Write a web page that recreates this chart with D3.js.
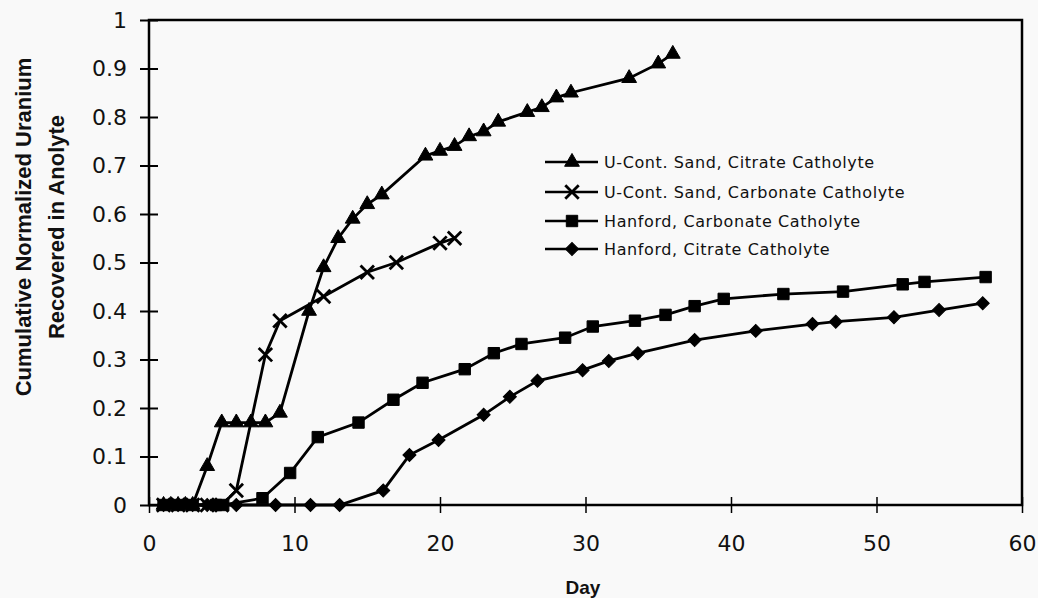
<!DOCTYPE html>
<html>
<head>
<meta charset="utf-8">
<script src="https://cdn.jsdelivr.net/npm/d3@7"></script>
<style>
  html, body { margin: 0; padding: 0; background: #f9f9f9; }
  svg { display: block; }
</style>
</head>
<body>
<div id="chart"></div>
<script>
// data
var seriesNames = [
  "U-Cont. Sand, Citrate Catholyte",
  "U-Cont. Sand, Carbonate Catholyte",
  "Hanford, Carbonate Catholyte",
  "Hanford, Citrate Catholyte"
];

var sandCitrateDays = [1, 1.5, 2, 2.5, 3, 4, 5, 6, 7, 8, 9, 11, 12, 13, 14, 15, 16, 19, 20, 21, 22, 23, 24, 26, 27, 28, 29, 33, 35, 36];
var sandCitrateU    = [0, 0, 0, 0, 0, 0.08, 0.17, 0.17, 0.17, 0.17, 0.19, 0.40, 0.49, 0.55, 0.59, 0.62, 0.64, 0.72, 0.73, 0.74, 0.76, 0.77, 0.79, 0.81, 0.82, 0.84, 0.85, 0.88, 0.91, 0.93];

var sandCarbonateDays = [1, 2, 3, 4, 5, 6, 8, 9, 12, 15, 17, 20, 21];
var sandCarbonateU    = [0, 0, 0, 0, 0, 0.03, 0.31, 0.38, 0.43, 0.48, 0.50, 0.54, 0.55];

var hanfordCarbonateDays = [1, 2, 3, 4.6, 5.1, 7.8, 9.7, 11.6, 14.4, 16.8, 18.8, 21.7, 23.7, 25.6, 28.6, 30.5, 33.4, 35.5, 37.5, 39.5, 43.6, 47.7, 51.8, 53.3, 57.5];
var hanfordCarbonateU    = [0, 0, 0, 0, 0, 0.014, 0.066, 0.14, 0.17, 0.217, 0.252, 0.28, 0.313, 0.332, 0.345, 0.368, 0.38, 0.392, 0.41, 0.425, 0.435, 0.44, 0.455, 0.46, 0.47];

var hanfordCitrateDays = [1, 2, 3, 4, 6, 8.7, 11.1, 13.1, 16.1, 17.9, 19.9, 23, 24.8, 26.7, 29.8, 31.6, 33.6, 37.5, 41.7, 45.6, 47.2, 51.2, 54.3, 57.3];
var hanfordCitrateU    = [0, 0, 0, 0, 0, 0, 0, 0, 0.03, 0.103, 0.134, 0.186, 0.223, 0.256, 0.278, 0.297, 0.313, 0.34, 0.359, 0.373, 0.378, 0.387, 0.402, 0.416];

var xTicks = [0, 10, 20, 30, 40, 50, 60];
var yTicks = [0, 0.1, 0.2, 0.3, 0.4, 0.5, 0.6, 0.7, 0.8, 0.9, 1];

var W = 1038, H = 598;
var margin = {top: 20, right: 16, bottom: 93, left: 149};
var width = W - margin.left - margin.right,
    height = H - margin.top - margin.bottom;

var svg = d3.select("#chart").append("svg")
  .attr("width", W).attr("height", H);

var g = svg.append("g")
  .attr("transform", "translate(" + margin.left + "," + margin.top + ")");

var x = d3.scaleLinear().domain([0, 60]).range([0, width]);
var y = d3.scaleLinear().domain([0, 1]).range([height, 0]);

// plot frame
g.append("rect")
  .attr("x", 0).attr("y", 0)
  .attr("width", width).attr("height", height)
  .attr("fill", "none")
  .attr("stroke", "#000")
  .attr("stroke-width", 2.5);

// axes (ticks crossing the frame)
var yAxis = g.append("g")
  .call(d3.axisLeft(y).tickValues(yTicks).tickSize(9).tickPadding(13)
    .tickFormat(function(d) { return d === 0 || d === 1 ? d3.format("d")(d) : d3.format(".1f")(d); }));
yAxis.select(".domain").remove();
yAxis.selectAll(".tick line").attr("x2", 9).attr("x1", -9).attr("stroke-width", 2);

var xAxis = g.append("g")
  .attr("transform", "translate(0," + height + ")")
  .call(d3.axisBottom(x).tickValues(xTicks).tickSize(8).tickPadding(22));
xAxis.select(".domain").remove();
xAxis.selectAll(".tick line").attr("y1", -8).attr("y2", 8).attr("stroke-width", 1.5);

svg.selectAll(".tick text")
  .attr("font-family", "DejaVu Sans")
  .attr("font-size", 22)
  .attr("fill", "#111");

// axis titles
var yTitle = svg.append("text")
  .attr("transform", "translate(31,227) rotate(-90)")
  .attr("text-anchor", "middle")
  .attr("font-family", "Liberation Sans")
  .attr("font-weight", "bold")
  .attr("font-size", 22)
  .attr("fill", "#111");
yTitle.append("tspan").attr("x", 0).attr("dy", 0).text("Cumulative Normalized Uranium");
yTitle.append("tspan").attr("x", 0).attr("dy", 33).text("Recovered in Anolyte");

svg.append("text")
  .attr("x", 583).attr("y", 594)
  .attr("text-anchor", "middle")
  .attr("font-family", "Liberation Sans")
  .attr("font-weight", "bold")
  .attr("font-size", 19)
  .attr("fill", "#111")
  .text("Day");

// markers
var markerPaths = [
  d3.symbol().type(d3.symbolTriangle).size(95)(),
  d3.symbol().type(d3.symbolTimes).size(120)(),
  d3.symbol().type(d3.symbolSquare).size(130)(),
  d3.symbol().type(d3.symbolSquare).size(85)()
];
var markerRotate = [0, 0, 0, 45];
var markerStroked = [false, true, false, false];

var series = [
  {days: sandCitrateDays, vals: sandCitrateU},
  {days: sandCarbonateDays, vals: sandCarbonateU},
  {days: hanfordCarbonateDays, vals: hanfordCarbonateU},
  {days: hanfordCitrateDays, vals: hanfordCitrateU}
];

var line = d3.line()
  .x(function(d) { return x(d[0]); })
  .y(function(d) { return y(d[1]); });

function drawMarker(sel, i) {
  sel.attr("d", markerPaths[i]);
  if (markerStroked[i]) {
    sel.attr("fill", "none").attr("stroke", "#000").attr("stroke-width", 2.8);
  } else {
    sel.attr("fill", "#000").attr("stroke", "#000").attr("stroke-width", 1);
  }
}

series.forEach(function(s, i) {
  var pts = s.days.map(function(d, k) { return [d, s.vals[k]]; });
  g.append("path")
    .datum(pts)
    .attr("d", line)
    .attr("fill", "none")
    .attr("stroke", "#000")
    .attr("stroke-width", 2.8);
  g.selectAll(".m" + i)
    .data(pts)
    .enter().append("path")
    .attr("class", "m" + i)
    .attr("transform", function(d) {
      return "translate(" + x(d[0]) + "," + y(d[1]) + ") rotate(" + markerRotate[i] + ")";
    })
    .call(drawMarker, i);
});

// legend
var legendY = [162, 192, 221, 249];
var legend = svg.append("g");
seriesNames.forEach(function(name, i) {
  var row = legend.append("g").attr("transform", "translate(0," + legendY[i] + ")");
  row.append("line")
    .attr("x1", 545).attr("x2", 598)
    .attr("y1", 0).attr("y2", 0)
    .attr("stroke", "#000").attr("stroke-width", 2.4);
  row.append("path")
    .attr("transform", "translate(572,0) rotate(" + markerRotate[i] + ")")
    .call(drawMarker, i);
  row.append("text")
    .attr("x", 604).attr("y", 5.5)
    .attr("font-family", "DejaVu Sans")
    .attr("font-size", 16)
    .attr("letter-spacing", 0.6)
    .attr("fill", "#111")
    .text(name);
});
</script>
</body>
</html>
